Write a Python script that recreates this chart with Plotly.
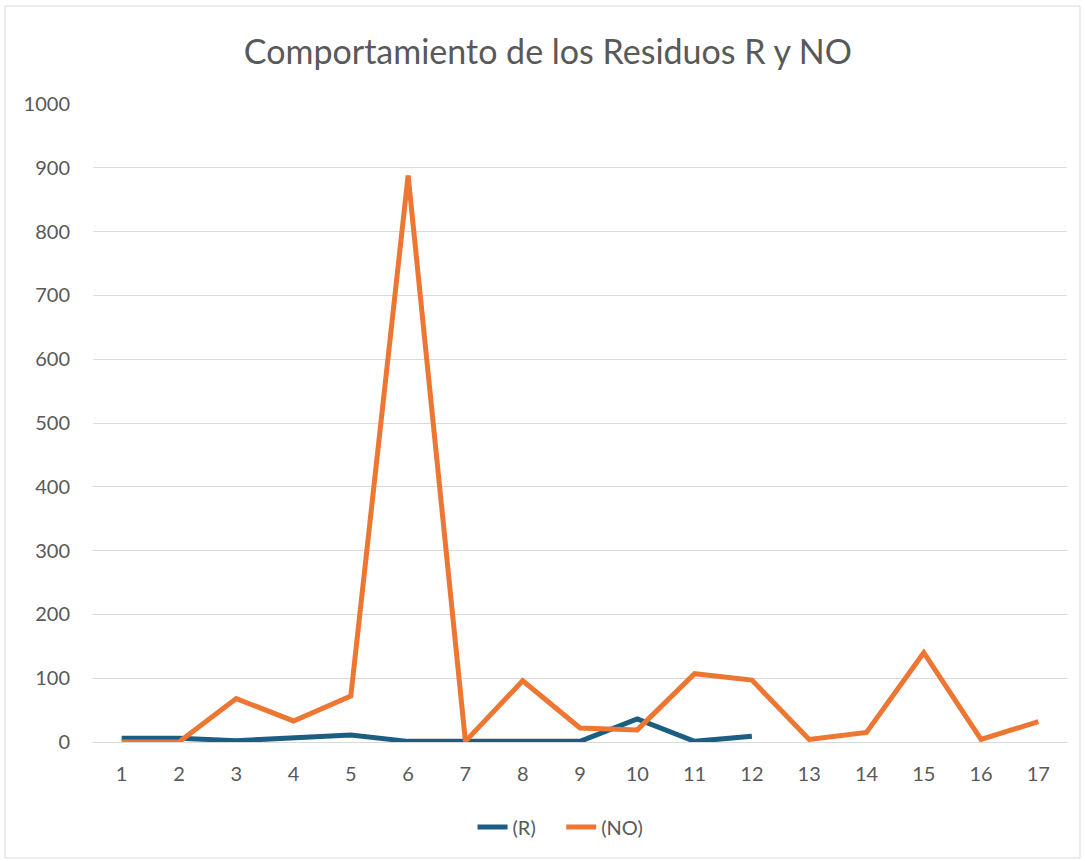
import plotly.graph_objects as go

categories = [str(i) for i in range(1, 18)]
r_values = [6, 6, 2, 6, 11, 1, 1, 1.5, 1, 36, 1, 9]
no_values = [0, 0, 68, 33, 72, 888, 1, 96, 22, 19, 107, 97, 4, 15, 140, 4, 32]
y_ticks = [0, 100, 200, 300, 400, 500, 600, 700, 800, 900, 1000]

FONT = "Lato, Open Sans, sans-serif"
GRAY = "#595959"

fig = go.Figure()
fig.add_trace(go.Scatter(x=categories[:len(r_values)], y=r_values, mode="lines",
                         name="(R)\u00a0\u00a0\u00a0\u00a0",
                         line=dict(color="#1B5E82", width=5)))
fig.add_trace(go.Scatter(x=categories, y=no_values, mode="lines", name="(NO)",
                         line=dict(color="#ED7632", width=5)))

fig.update_layout(
    width=1085, height=861,
    margin=dict(l=93, r=18, t=104, b=119),
    paper_bgcolor="white", plot_bgcolor="white",
    title=dict(text="Comportamiento de los Residuos R y NO", x=0.505, xanchor="center",
               y=1 - 52/861, yanchor="middle",
               font=dict(family=FONT, size=34, color=GRAY)),
    font=dict(family=FONT, size=20, color=GRAY),
    xaxis=dict(type="category", range=[-0.5, 16.5], showgrid=False, showline=False,
               ticks="", ticklabelstandoff=18, tickfont=dict(size=20, color=GRAY)),
    yaxis=dict(range=[0, 1000], tickvals=y_ticks, showgrid=True, gridcolor="#D9D9D9",
               gridwidth=1.3, zeroline=True, zerolinecolor="#D9D9D9", zerolinewidth=1.3,
               ticks="", ticklabelstandoff=22, tickfont=dict(size=20, color=GRAY)),
    legend=dict(orientation="h", x=0.48, xanchor="center", y=(742-827)/638, yanchor="middle",
                font=dict(size=20, color=GRAY), itemwidth=30),
    showlegend=True,
)
fig.add_shape(type="rect", xref="paper", yref="paper",
              x0=(5-93)/974, x1=(1080-93)/974, y0=(742-858)/638, y1=(742-6)/638,
              line=dict(color="#D9D9D9", width=1), layer="below")

fig.write_html("out.html", config={"displayModeBar": False},
               post_script="document.body.style.margin='0';document.body.style.padding='0';")
